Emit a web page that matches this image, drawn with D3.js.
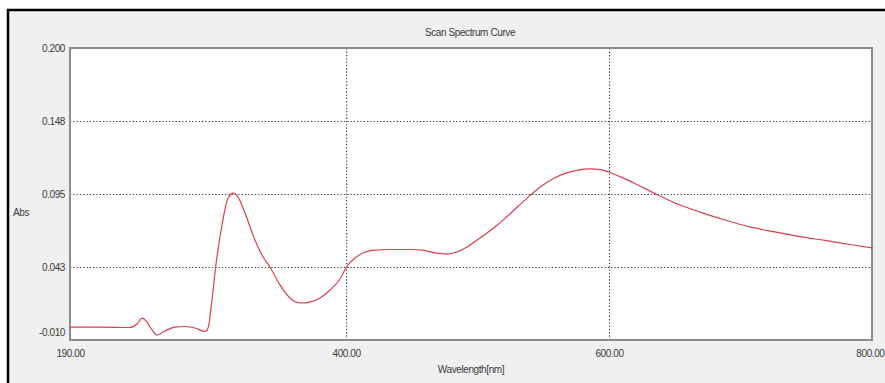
<!DOCTYPE html>
<html>
<head>
<meta charset="utf-8">
<script src="https://cdn.jsdelivr.net/npm/d3@7/dist/d3.min.js"></script>
<style>
  html, body { margin: 0; padding: 0; background: #ffffff; }
  svg { display: block; }
  text { font-family: "Liberation Sans", Arial, sans-serif; fill: #3a3a3a; }
</style>
</head>
<body>
<svg id="chart" width="885" height="383"></svg>
<script>
// Absorbance scan, wavelength in nm
const wavelengths = [190, 212.8, 235.6, 241, 244.8, 248.6, 252.4, 256.2, 262.3, 269.9, 277.5, 285.1,
  292.7, 295, 298, 300.8, 305.6, 310.2, 314, 317.8, 323.1, 330.7, 336, 342.1, 349.7, 357.3,
  364.9, 372.5, 380.1, 387.8, 395.4, 400.7, 406.8, 414.4, 422, 433.4, 448.6, 458.5, 467.6,
  476.7, 484.3, 492, 499.6, 507.2, 514.8, 522.4, 530.7, 539.9, 549, 557.4, 566.5, 575.6,
  585.5, 593.1, 600.7, 608.3, 619.7, 633.4, 650.2, 669.2, 688.2, 707.2, 726.2, 745.2,
  764.2, 783.3, 800];
const absorbance = [-0.0007, -0.0007, -0.0010, 0.0015, 0.0058, 0.0029, -0.0028, -0.0064, -0.0035,
  -0.0007, -0.0003, -0.0014, -0.0039, -0.0014, 0.0188, 0.0427, 0.0727, 0.0921, 0.0957, 0.0928,
  0.0813, 0.0619, 0.0511, 0.0425, 0.0296, 0.0202, 0.0166, 0.0173, 0.0202, 0.0260, 0.0339,
  0.0432, 0.0490, 0.0533, 0.0547, 0.0551, 0.0551, 0.0547, 0.0526, 0.0518, 0.0533, 0.0569,
  0.0619, 0.0670, 0.0725, 0.0788, 0.0860, 0.0940, 0.1010, 0.1060, 0.1098, 0.1120, 0.1130,
  0.1125, 0.1105, 0.1075, 0.1025, 0.0960, 0.0885, 0.0820, 0.0763, 0.0713, 0.0677, 0.0644,
  0.0616, 0.0587, 0.0562];

const xTickValues = [190, 400, 600, 800];
const xTickLabels = ["190.00", "400.00", "600.00", "800.00"];
const yTickValues = [-0.010, 0.0425, 0.095, 0.1475, 0.200];
const yTickLabels = ["-0.010", "0.043", "0.095", "0.148", "0.200"];

const svg = d3.select("#chart");
const W = 885, H = 383;
const plot = { left: 70, top: 48, right: 872, bottom: 340 };

// window frame: black edge and grey panel
svg.append("rect").attr("x", 8).attr("y", 10).attr("width", W - 8).attr("height", H - 10)
  .attr("fill", "#f0f0f0");
svg.append("line").attr("x1", 7).attr("x2", W).attr("y1", 10).attr("y2", 10)
  .attr("stroke", "#000").attr("stroke-width", 2.5);
svg.append("line").attr("x1", 8).attr("x2", 8).attr("y1", 9).attr("y2", H)
  .attr("stroke", "#000").attr("stroke-width", 2.5);

const x = d3.scaleLinear().domain([190, 800]).range([plot.left, plot.right]);
const y = d3.scaleLinear().domain([-0.010, 0.200]).range([plot.bottom, plot.top]);

// plot area
svg.append("rect")
  .attr("x", plot.left).attr("y", plot.top)
  .attr("width", plot.right - plot.left).attr("height", plot.bottom - plot.top)
  .attr("fill", "#ffffff");

// dotted grid
const gridY = svg.append("g").attr("transform", `translate(${plot.left},0)`)
  .call(d3.axisLeft(y).tickValues(yTickValues.slice(1, -1)).tickSize(-(plot.right - plot.left)).tickFormat(""));
gridY.select(".domain").remove();
gridY.selectAll("line").attr("stroke", "#3c3c3c").attr("stroke-dasharray", "1.3,2").attr("stroke-width", 1.1);

const gridX = svg.append("g").attr("transform", `translate(0,${plot.bottom})`)
  .call(d3.axisBottom(x).tickValues(xTickValues.slice(1, -1)).tickSize(-(plot.bottom - plot.top)).tickFormat(""));
gridX.select(".domain").remove();
gridX.selectAll("line").attr("stroke", "#3c3c3c").attr("stroke-dasharray", "1.3,2").attr("stroke-width", 1.1);

// plot border
svg.append("rect")
  .attr("x", plot.left).attr("y", plot.top)
  .attr("width", plot.right - plot.left).attr("height", plot.bottom - plot.top)
  .attr("fill", "none").attr("stroke", "#8c8c8c").attr("stroke-width", 2);

// axis labels
const yAxis = svg.append("g").attr("transform", `translate(${plot.left - 2},0)`)
  .call(d3.axisLeft(y).tickValues(yTickValues).tickSize(0)
    .tickFormat((d, i) => yTickLabels[i]));
yAxis.select(".domain").remove();
yAxis.selectAll("text").attr("font-size", 10).attr("fill", "#3a3a3a")
  .attr("font-family", "Liberation Sans, Arial, sans-serif")
  .attr("letter-spacing", -0.4)
  .attr("dy", (d, i) => i === 0 ? "-0.45em" : "0.32em");

const xAxis = svg.append("g").attr("transform", `translate(0,${plot.bottom})`)
  .call(d3.axisBottom(x).tickValues(xTickValues).tickSize(0)
    .tickFormat((d, i) => xTickLabels[i]));
xAxis.select(".domain").remove();
xAxis.selectAll("text").attr("font-size", 10).attr("fill", "#3a3a3a")
  .attr("font-family", "Liberation Sans, Arial, sans-serif")
  .attr("letter-spacing", -0.4)
  .attr("y", 10);
// last label sits against the window edge
xAxis.selectAll(".tick").filter((d, i, n) => i === n.length - 1)
  .select("text").attr("text-anchor", "end").attr("x", W - x(800) - 1);

// titles
svg.append("text").attr("x", 470).attr("y", 36).attr("text-anchor", "middle")
  .attr("font-size", 10).attr("letter-spacing", -0.4).text("Scan Spectrum Curve");
svg.append("text").attr("x", 471).attr("y", 373).attr("text-anchor", "middle")
  .attr("font-size", 10).attr("letter-spacing", -0.4).text("Wavelength[nm]");
svg.append("text").attr("x", 13).attr("y", 216)
  .attr("font-size", 10).attr("letter-spacing", -0.4).text("Abs");

// spectrum curve
const line = d3.line()
  .x((d, i) => x(wavelengths[i]))
  .y(d => y(d))
  .curve(d3.curveMonotoneX);
svg.append("path").datum(absorbance)
  .attr("d", line)
  .attr("fill", "none")
  .attr("stroke", "#d9404f")
  .attr("stroke-width", 1.2);
</script>
</body>
</html>
